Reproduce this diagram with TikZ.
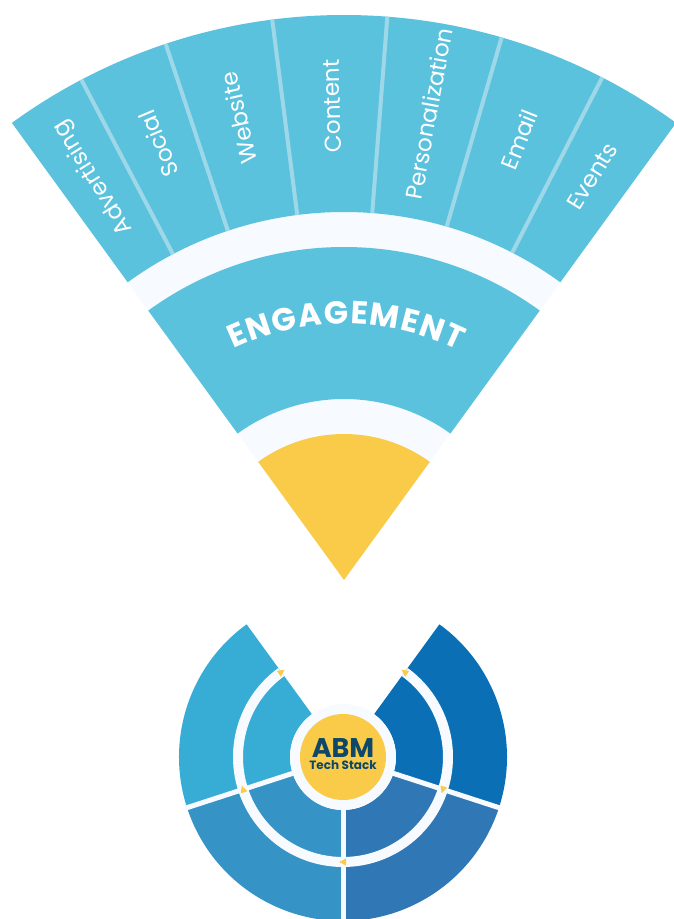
\documentclass[tikz,border=0pt]{standalone}
\usepackage{fontspec}
\setmainfont{Poppins}
\usetikzlibrary{positioning, calc, decorations.text}
\definecolor{engblue}{RGB}{91,194,222}
\definecolor{sepblue}{RGB}{158,216,232}
\definecolor{paleband}{RGB}{247,250,254}
\definecolor{stackgold}{RGB}{249,203,72}
\definecolor{abmnavy}{RGB}{14,72,104}
\definecolor{wheelA}{RGB}{55,173,214}
\definecolor{wheelB}{RGB}{53,147,198}
\definecolor{wheelC}{RGB}{47,120,181}
\definecolor{wheelD}{RGB}{10,111,181}
\tikzset{
    chlabel/.style={text=white, font=\fontsize{23}{23}\selectfont, inner sep=0pt},
    divider/.style={sepblue, line width=4pt}
}

\begin{document}
\begin{tikzpicture}[
    x=1pt, y=1pt,
    spoke/.style={paleband, line width=5pt},
    ring/.style={paleband, line width=10pt},
    tip/.style={fill=stackgold},
    hubtitle/.style={text=abmnavy, font=\bfseries\fontsize{27}{27}\selectfont, inner sep=0pt},
    hubsub/.style={text=abmnavy, font=\bfseries\fontsize{12}{12}\selectfont, inner sep=0pt}
]
\useasboundingbox (0,0) rectangle (674,919);
\coordinate (fan) at (344,339);
\coordinate (hub) at (343,162);

% Fan: pale backing, gold core, engagement band
\fill[paleband] (fan) -- ($(fan)+(126:565)$) arc[start angle=126, end angle=54, radius=565] -- cycle;
\fill[stackgold] (fan) -- ($(fan)+(126:146)$) arc[start angle=126, end angle=54, radius=146] -- cycle;
\fill[engblue] ($(fan)+(126:333)$) arc[start angle=126, end angle=54, radius=333]
    -- ($(fan)+(54:181)$) arc[start angle=54, end angle=126, radius=181] -- cycle;
\path[decorate, decoration={text along path, text align=fit to path, text color=white,
    text={|\bfseries\fontsize{32}{32}\selectfont|ENGAGEMENT}}]
    ($(fan)+(115.5:256)$) arc[start angle=115.5, end angle=63.5, radius=256];

% Channel band
\fill[engblue] ($(fan)+(126:565)$) arc[start angle=126, end angle=54, radius=565]
    -- ($(fan)+(54:368)$) arc[start angle=54, end angle=126, radius=368] -- cycle;
\foreach \a in {117.7, 108.4, 97.3, 85.6, 73.8, 62.8} {
    \draw[divider] ($(fan)+(\a:368)$) -- ($(fan)+(\a:565)$);
}
\foreach \a/\e/\txt [count=\i] in {126/117.7/Advertising, 117.7/108.4/Social,
    108.4/97.3/Website, 97.3/85.6/Content, 85.6/73.8/Personalization,
    73.8/62.8/Email, 62.8/54/Events} {
    \pgfmathsetmacro{\midang}{(\a+\e)/2}
    \node[chlabel, rotate=\midang] (ch\i) at ($(fan)+(\midang:474)$) {\txt};
}

% Wheel: four quarters
\foreach \a/\col in {126/wheelA, 198/wheelB, 270/wheelC, 342/wheelD} {
    \pgfmathsetmacro{\aend}{\a+72}
    \fill[\col] ($(hub)+(\a:164)$) arc[start angle=\a, end angle=\aend, radius=164]
        -- ($(hub)+(\aend:53)$) arc[start angle=\aend, end angle=\a, radius=53] -- cycle;
}
\draw[ring] ($(hub)+(126:105)$) arc[start angle=126, end angle=414, radius=105];
\foreach \a in {198, 270, 342} {
    \draw[spoke] ($(hub)+(\a:43)$) -- ($(hub)+(\a:166)$);
}
% arrow tips on the ring
\foreach \a/\turn in {126/-90, 198/-90, 270/-90, 342/-90, 54/90} {
    \fill[tip, shift={($(hub)+(\a:105)$)}, rotate=\a+\turn] (4,0) -- (-3,3.5) -- (-3,-3.5) -- cycle;
}

% Hub
\fill[paleband] (hub) circle[radius=53];
\node[circle, fill=stackgold, minimum size=86pt, inner sep=0pt] (core) at (hub) {};
\node[hubtitle] (abm) at ([yshift=9pt]hub) {ABM};
\node[hubsub, below=3pt of abm] (stack) {Tech Stack};

\end{tikzpicture}
\end{document}
